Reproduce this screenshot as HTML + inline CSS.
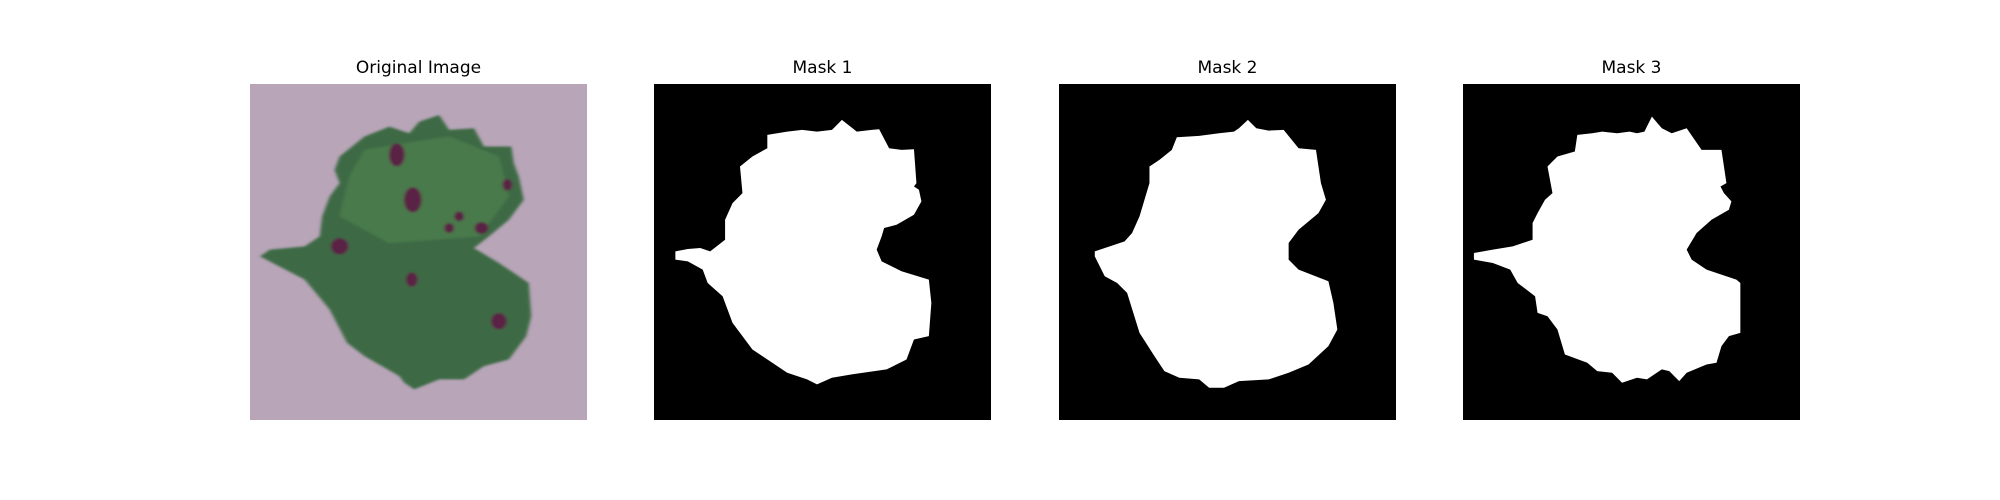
<!DOCTYPE html>
<html><head><meta charset="utf-8"><style>
html,body{margin:0;padding:0;background:#fff;width:2000px;height:500px;overflow:hidden}
.t{position:absolute;top:58px;width:337px;text-align:center;font-family:"DejaVu Sans","Liberation Sans",sans-serif;font-size:17px;color:#000}
svg{position:absolute;top:84px;width:337px;height:336px}
</style></head><body>
<div class="t" style="left:250px">Original Image</div>
<div class="t" style="left:654px">Mask 1</div>
<div class="t" style="left:1059px">Mask 2</div>
<div class="t" style="left:1463px">Mask 3</div>

<svg style="left:250px" viewBox="20 102 677 1010" preserveAspectRatio="none">
<defs><filter id="b"><feGaussianBlur stdDeviation="3"/></filter></defs>
<rect x="20" y="102" width="677" height="1010" fill="#b8a5b8"/>
<g filter="url(#b)">
<polygon fill="#3d6b45" points="200,320 250,260 300,230 340,250 360,215 400,195 420,240 470,235 490,290 545,290 550,340 560,380 570,450 540,510 500,560 470,595 520,640 580,700 585,800 575,860 540,930 490,950 450,990 400,990 350,1020 330,1000 320,980 250,920 215,880 180,780 130,690 40,620 60,600 130,590 160,560 165,500 180,440 200,400 190,360"/>
<polygon fill="#4a7a4c" points="250,300 330,280 420,260 520,320 540,440 480,560 300,580 200,500 220,380"/>
<ellipse cx="315" cy="315" rx="16" ry="35" fill="#5a2145"/>
<ellipse cx="347" cy="450" rx="18" ry="38" fill="#5a2145"/>
<ellipse cx="200" cy="590" rx="18" ry="25" fill="#5a2145"/>
<ellipse cx="420" cy="535" rx="10" ry="15" fill="#5a2145"/>
<ellipse cx="440" cy="500" rx="10" ry="15" fill="#5a2145"/>
<ellipse cx="485" cy="535" rx="14" ry="18" fill="#5a2145"/>
<ellipse cx="537" cy="405" rx="10" ry="18" fill="#5a2145"/>
<ellipse cx="345" cy="690" rx="12" ry="22" fill="#5a2145"/>
<ellipse cx="520" cy="815" rx="16" ry="25" fill="#5a2145"/>
</g>
</svg>

<svg style="left:654px" viewBox="832 102 678 1010" preserveAspectRatio="none">
<rect x="832" y="102" width="678" height="1010" fill="#000"/>
<polygon fill="#fff" points="1060,255 1100,245 1130,240 1160,245 1190,240 1210,210 1240,245 1270,240 1285,238 1305,295 1330,300 1355,298 1360,400 1355,410 1365,420 1370,455 1355,495 1320,525 1295,535 1290,560 1280,600 1290,635 1330,665 1385,690 1390,760 1385,860 1355,870 1340,930 1300,960 1230,975 1190,985 1160,1005 1140,990 1100,970 1050,920 1030,900 990,820 970,740 940,700 930,660 900,635 875,630 875,605 900,598 925,595 945,605 975,570 975,510 990,460 1010,430 1005,350 1030,320 1060,295"/>
</svg>

<svg style="left:1059px" viewBox="38 102 678 1010" preserveAspectRatio="none">
<rect x="38" y="102" width="678" height="1010" fill="#000"/>
<polygon fill="#fff" points="275,262 320,258 360,250 390,245 400,235 418,210 435,235 460,242 490,240 520,295 555,300 565,400 575,450 560,490 520,540 500,580 500,630 520,660 580,695 590,760 598,840 580,890 540,945 500,970 460,990 400,995 370,1015 340,1015 320,990 280,985 250,965 230,920 200,850 175,730 155,700 130,680 110,620 110,605 140,590 170,575 185,550 200,500 210,450 220,400 220,350 240,330 265,300"/>
</svg>

<svg style="left:1463px" viewBox="850 102 678 1010" preserveAspectRatio="none">
<rect x="850" y="102" width="678" height="1010" fill="#000"/>
<polygon fill="#fff" points="1080,255 1110,250 1130,245 1160,250 1185,245 1200,250 1215,245 1230,200 1250,235 1270,250 1300,235 1330,300 1370,300 1380,400 1368,410 1375,430 1390,455 1385,480 1350,510 1320,550 1300,600 1310,630 1340,660 1400,690 1408,700 1408,850 1385,860 1370,890 1360,940 1340,945 1300,970 1285,995 1265,965 1250,960 1220,990 1200,985 1170,1000 1150,970 1120,965 1100,940 1055,915 1040,840 1020,800 1000,790 995,740 960,700 945,660 910,640 872,630 872,610 910,600 950,590 990,570 990,520 1000,490 1015,450 1030,430 1020,350 1040,320 1075,305"/>
</svg>
</body></html>
